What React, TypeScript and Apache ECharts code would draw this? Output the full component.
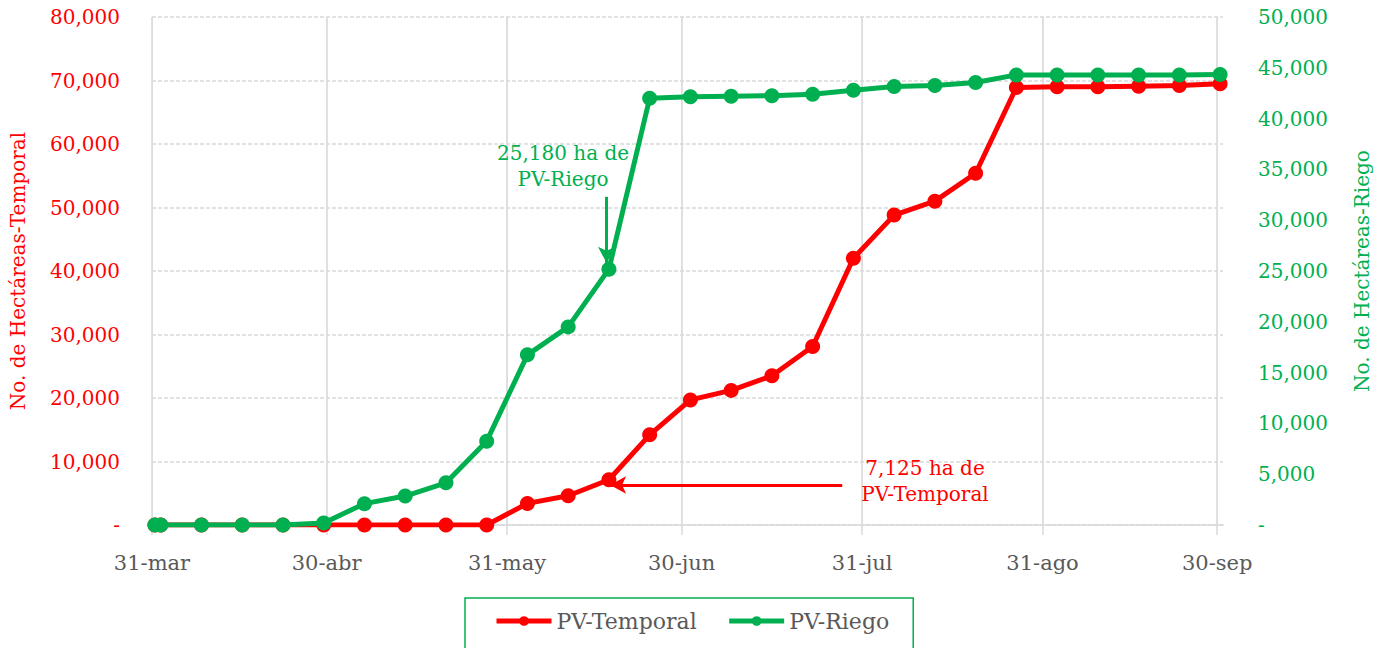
import React, { useEffect, useRef } from "react";
import * as echarts from "echarts";

const dates = [
  "2020-03-31", "2020-04-01", "2020-04-08", "2020-04-15", "2020-04-22", "2020-04-29",
  "2020-05-06", "2020-05-13", "2020-05-20", "2020-05-27", "2020-06-03", "2020-06-10",
  "2020-06-17", "2020-06-24", "2020-07-01", "2020-07-08", "2020-07-15", "2020-07-22",
  "2020-07-29", "2020-08-05", "2020-08-12", "2020-08-19", "2020-08-26", "2020-09-02",
  "2020-09-09", "2020-09-16", "2020-09-23", "2020-09-30",
];
const temporal = [
  0, 0, 0, 0, 0, 0, 0, 0, 0, 0, 3400, 4600, 7125, 14200, 19700, 21200, 23500, 28100,
  42000, 48800, 51000, 55400, 68900, 69000, 69000, 69100, 69200, 69500,
];
const riego = [
  0, 0, 0, 0, 0, 200, 2100, 2850, 4150, 8250, 16750, 19500, 25180, 42000, 42150, 42200,
  42250, 42400, 42800, 43150, 43250, 43550, 44300, 44300, 44300, 44300, 44300, 44350,
];
const monthEnds = ["2020-03-31", "2020-04-30", "2020-05-31", "2020-06-30", "2020-07-31", "2020-08-31", "2020-09-30"];
const monthNames = ["ene", "feb", "mar", "abr", "may", "jun", "jul", "ago", "sep", "oct", "nov", "dic"];
const axisStart = "2020-03-31";
const axisEnd = "2020-10-01";

const DAY = 86400000;
const ts = (s: string) => Date.parse(s + "T00:00:00Z");
const mid = (s: string) => ts(s) + DAY / 2;

const RED = "#FF0000";
const GREEN = "#00B050";
const FONT = "DejaVu Serif";

const fmtNum = (v: number) => (v === 0 ? "-" : v.toLocaleString("en-US"));
const fmtDate = (v: number) => {
  const d = new Date(v);
  return `${d.getUTCDate()}-${monthNames[d.getUTCMonth()]}`;
};

export default function App() {
  const ref = useRef<HTMLDivElement>(null);
  useEffect(() => {
    document.body.style.margin = "0";
    const chart = echarts.init(ref.current!, null, { renderer: "svg" });
    const tempData = dates.map((d, i) => [mid(d), temporal[i]]);
    const riegoData = dates.map((d, i) => [mid(d), riego[i]]);
    const annDate = "2020-06-17";
    chart.setOption({
      animation: false,
      textStyle: { fontFamily: FONT },
      grid: { left: 152, right: 157, top: 17, bottom: 123, containLabel: false },
      xAxis: {
        type: "value",
        min: ts(axisStart),
        max: ts(axisEnd),
        interval: DAY,
        axisLine: { show: true, lineStyle: { color: "#d9d9d9", width: 1.5 } },
        axisTick: {
          show: true,
          length: 10,
          lineStyle: { color: "#d9d9d9", width: 1.5 },
          customValues: monthEnds.map(ts),
        },
        axisLabel: {
          customValues: monthEnds.map(ts),
          formatter: (v: number) => fmtDate(v),
          color: "#595959",
          fontSize: 21,
          fontFamily: FONT,
          margin: 27,
        },
        splitLine: { show: true, lineStyle: { color: "#ececec", width: 1 } },
      },
      yAxis: [
        {
          type: "value",
          min: 0,
          max: 80000,
          interval: 10000,
          name: "No. de Hectáreas-Temporal",
          nameLocation: "middle",
          nameRotate: 90,
          nameGap: 124,
          nameTextStyle: { color: RED, fontSize: 20, fontFamily: FONT },
          axisLine: { show: false },
          axisTick: { show: false },
          axisLabel: { color: RED, fontSize: 20, fontFamily: FONT, margin: 32, formatter: fmtNum },
          splitLine: { show: true, lineStyle: { color: "#d9d9d9", width: 1.5, type: [4, 2] } },
        },
        {
          type: "value",
          min: 0,
          max: 50000,
          interval: 5000,
          position: "right",
          name: "No. de Hectáreas-Riego",
          nameLocation: "middle",
          nameRotate: 90,
          nameGap: 129,
          nameTextStyle: { color: GREEN, fontSize: 20, fontFamily: FONT },
          axisLine: { show: false },
          axisTick: { show: false },
          axisLabel: { color: GREEN, fontSize: 20, fontFamily: FONT, margin: 35, formatter: fmtNum },
          splitLine: { show: false },
        },
      ],
      legend: {
        left: 465,
        top: 598,
        padding: [12, 24, 40, 29],
        borderColor: GREEN,
        borderWidth: 1.5,
        itemGap: 30,
        itemWidth: 55,
        itemHeight: 12,
        lineStyle: { width: 5 },
        data: ["PV-Temporal", "PV-Riego"],
        textStyle: { color: "#595959", fontSize: 22, fontFamily: FONT },
      },
      series: [
        {
          name: "grid-major",
          type: "line",
          data: [],
          silent: true,
          z: 1,
          markLine: {
            silent: true,
            z: 1,
            symbol: ["none", "none"],
            label: { show: false },
            lineStyle: { color: "#d9d9d9", width: 1.5, type: "solid" },
            data: monthEnds.map((m) => ({ xAxis: ts(m) })),
          },
        },
        {
          name: "PV-Temporal",
          type: "line",
          yAxisIndex: 0,
          data: tempData,
          symbol: "circle",
          symbolSize: 15,
          lineStyle: { color: RED, width: 5 },
          itemStyle: { color: RED },
          z: 3,
          markLine: {
            silent: true,
            z: 6,
            symbol: ["none", "arrow"],
            symbolSize: [13, 16],
            label: { show: false },
            lineStyle: { color: RED, width: 3, type: "solid" },
            data: [[{ coord: [ts("2020-07-27") + 14 * 3600000, 6300] }, { coord: [mid(annDate) + DAY * 0.2, 6300] }]],
          },
        },
        {
          name: "PV-Riego",
          type: "line",
          yAxisIndex: 1,
          data: riegoData,
          symbol: "circle",
          symbolSize: 15,
          lineStyle: { color: GREEN, width: 5 },
          itemStyle: { color: GREEN },
          z: 4,
          markLine: {
            silent: true,
            z: 6,
            symbol: ["none", "arrow"],
            symbolSize: [13, 16],
            label: { show: false },
            lineStyle: { color: GREEN, width: 3, type: "solid" },
            data: [[{ coord: [mid(annDate) - DAY * 0.4, 32300] }, { coord: [mid(annDate) - DAY * 0.4, 25800] }]],
          },
        },
      ],
      graphic: [
        {
          type: "text",
          x: 563,
          y: 140,
          z: 10,
          style: {
            text: "25,180 ha de\nPV-Riego",
            font: `20px "${FONT}"`,
            fill: GREEN,
            align: "center",
            verticalAlign: "top",
            lineHeight: 26,
          },
        },
        {
          type: "text",
          x: 925,
          y: 455,
          z: 10,
          style: {
            text: "7,125 ha de\nPV-Temporal",
            font: `20px "${FONT}"`,
            fill: RED,
            align: "center",
            verticalAlign: "top",
            lineHeight: 26,
          },
        },
      ],
    });
    return () => chart.dispose();
  }, []);
  return <div ref={ref} style={{ width: 1380, height: 648 }} />;
}
